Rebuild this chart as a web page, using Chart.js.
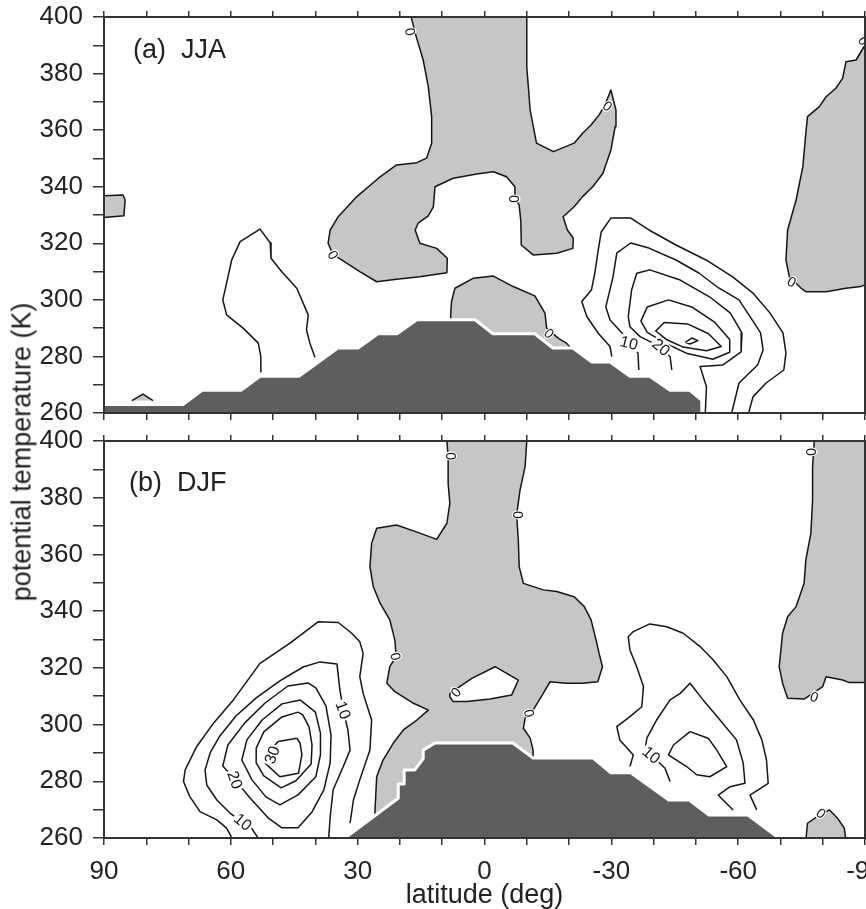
<!DOCTYPE html>
<html>
<head>
<meta charset="utf-8">
<script src="https://cdn.jsdelivr.net/npm/chart.js@4.4.1/dist/chart.umd.min.js"></script>
<style>
  html, body { margin: 0; padding: 0; background: #fff; }
  #wrap { position: relative; width: 866px; height: 909px; overflow: hidden;
          font-family: "Liberation Sans", Arial, Helvetica, sans-serif; }
  .panel { position: absolute; left: 0; width: 866px; }
  #boxA { top: 0; height: 427px; }
  #boxB { top: 427px; height: 482px; }
  #ytitle { position: absolute; left: 22px; top: 452px; line-height: 1;
            transform: translate(-50%, -50%) rotate(-90deg);
            white-space: nowrap; font-size: 27px; color: #222; }
</style>
</head>
<body>
<div id="wrap">
  <div class="panel" id="boxA"><canvas id="chartA" width="866" height="427"></canvas></div>
  <div class="panel" id="boxB"><canvas id="chartB" width="866" height="482"></canvas></div>
  <div id="ytitle">potential temperature (K)</div>
</div>
<script>
// axis setup
const latRange = [-90, 90];
const thetaRange = [260, 400];
const latLabels = [90, 60, 30, 0, -30, -60, -90];
const thetaLabels = [260, 280, 300, 320, 340, 360, 380, 400];

// ---- (a) JJA : [latitude, theta] pairs ----
const jjaTopo = [[92,258],[92,263],[71.3,263],[66.8,268],[57.6,268],[53.1,273],[43.9,273],[34.7,283],[29.9,283],[25.2,288],[20.7,288],[16.0,293],[2.3,293],[-2.0,288],[-11.9,288],[-16.2,283],[-20.9,283],[-25.4,278],[-29.7,278],[-34.4,273],[-39.1,273],[-43.9,268],[-48.6,268],[-51.4,264.5],[-51.4,258],[92,258]];
const jjaNegEdge = [[91,336.7],[85.5,337.1],[85.0,335.3],[85.3,329.7],[91,329.0]];
const jjaNegBump = [[83.4,264.4],[80.8,266.7],[78.4,264.4]];
const jjaNegCentral = [[17.5,401],[16.4,394.3],[14.5,384.8],[13.3,375.4],[12.5,364.8],[12.5,355.4],[13.7,350.1],[16.0,348.5],[20.8,347.7],[25.1,343],[30.2,336.5],[34.6,329.4],[36.5,324.7],[37.0,320],[35.8,315.9],[33.8,314.1],[29.5,310],[25.5,306.4],[20.8,307.3],[15.3,308.2],[8.9,309.6],[8.8,314.7],[11.3,318.2],[15.3,320],[16.4,324.7],[15.7,327.1],[13.3,329.7],[12.1,332.9],[11.7,340],[7.4,343],[1.85,344.5],[-2.1,345.3],[-5.2,343.5],[-7.2,340],[-7.2,335.9],[-8.2,333.5],[-8.6,327.6],[-8.7,319.4],[-11.5,315.9],[-17.1,316.5],[-20.9,318.2],[-21.0,321.8],[-19.6,324.7],[-18.6,329.4],[-21.2,332.9],[-23.2,336.5],[-25.6,340],[-28.0,344.7],[-29.9,353],[-30.9,361.2],[-31.1,367.1],[-29.9,374.2],[-28.3,368.3],[-27.1,365.4],[-25.2,361.8],[-23.2,358.9],[-21.2,355.4],[-16.3,352.4],[-12.3,355.4],[-10.8,367.1],[-10,382.4],[-10,401],[17.5,401]];
const jjaNegBlob = [[8.0,281],[8.0,294.7],[7.8,299.4],[7.0,304.1],[2.7,307.6],[-2.1,308.4],[-6.8,304.7],[-11.9,301.4],[-14.3,295.3],[-14.7,290],[-17.5,286.4],[-19.4,284.7],[-21.5,281]];
const jjaNegPolar = [[-91,390.1],[-90,390.1],[-87.9,384.8],[-85.5,384.2],[-84.7,378.3],[-83.1,374.8],[-80.8,371.8],[-79.2,368.3],[-76.4,364.8],[-76.0,358.9],[-75.3,347.1],[-73.7,335.3],[-71.7,324.7],[-71.3,314.1],[-72.1,308.2],[-74.9,304.1],[-76.0,302.9],[-80.8,302.9],[-85.5,304.1],[-89,304.7],[-91,306]];
const jjaPosNH = [[53.1,274.6],[52.9,279.9],[53.5,284.7],[57.1,290],[61.0,294.7],[61.9,300],[61.0,305.9],[59.8,314.1],[57.8,320.6],[53.1,325],[50.7,320.2],[50.5,314.7],[48.0,310],[44.4,304.1],[41.7,294.7],[42.1,289.4],[41.3,284.7],[40.1,279.7]];
const jjaPosOuter = [[-30.1,279.9],[-29.7,283.5],[-26.9,288.2],[-24.2,294.1],[-23.0,299.4],[-25.3,303.5],[-26.1,309.5],[-26.8,316.6],[-27.6,324.0],[-29.9,328.9],[-34.6,328.9],[-38.9,324.7],[-45.3,319.4],[-52.4,314.1],[-58.7,308.1],[-63.5,302.4],[-67.5,295.4],[-70.6,288.3],[-71.3,281.2],[-70.8,275.2],[-66.6,270.6],[-63.5,265.7],[-62.3,259]];
const jjaPos10 = [[-36.5,275.2],[-36.3,281.2],[-34.2,284.8],[-32.5,288.3],[-29.7,292.9],[-28.7,297.5],[-30.4,308.1],[-31.3,316.6],[-34.6,320.1],[-38.9,318.3],[-45.3,314.1],[-50.7,309.5],[-55.4,304.2],[-60.2,300],[-63.0,293.6],[-65.3,288.3],[-65.9,282.3],[-64.6,277.0],[-60.2,270.6],[-58.3,259]];
const jjaPos20 = [[-44.3,275.2],[-43.9,279.9],[-41.8,283.3],[-36.8,287.0],[-34.4,290.5],[-34.0,294.1],[-34.8,303.5],[-36.0,309.4],[-39.1,310.6],[-46.3,307.0],[-53.3,301.0],[-58.1,295.4],[-60.9,288.3],[-60.7,281.6],[-56.4,277.0],[-51.0,276.4],[-52.5,269.3],[-52.2,259]];
const jjaPosIn1 = [[-43.5,300],[-38.5,297.5],[-37,292.5],[-38.5,288.5],[-43,284.5],[-48,281],[-54,279],[-58,281.5],[-58,286],[-54.5,292],[-49,297.5],[-43.5,300]];
const jjaPosIn2 = [[-42.5,292],[-40.5,289],[-43,286],[-47,283.3],[-52.5,282],[-56,283.5],[-53,288],[-48,291.5],[-42.5,292]];
const jjaPosCore = [[-47.5,285],[-49,286.5],[-50.5,285.6],[-48.6,284.4],[-47.5,285]];
const jjaZeroLabels = [[17.6,394.8,80],[35.8,315.9,60],[-7.0,335.7,90],[-15.3,288.2,45],[-29.1,368.5,40],[-72.7,306.4,30],[-89.7,391.6,60]];
const jjaNumLabels = [[-34.2,284.8,'10',15],[-41.8,283.3,'20',40]];

// ---- (b) DJF ----
const djfTopo = [[34.8,258],[33.0,260],[20.4,274],[20.4,279],[19.0,279],[19.0,284],[16.5,284],[14.5,288],[14.5,291],[11.7,293.5],[-6.7,293.5],[-11.5,288.2],[-25.7,288.2],[-29.9,283],[-34.6,283],[-43.6,273.4],[-48.4,273.4],[-53.1,268.1],[-62.3,268.1],[-69.6,260],[-71.4,258],[34.8,258]];
const djfNegCentral = [[8.9,401],[8.9,400],[8.6,394.5],[8.6,385.1],[8.2,378.0],[8.9,371.0],[11.3,365.3],[15.3,367.5],[20.8,370.4],[25.5,369.2],[26.7,363.9],[27.1,355.7],[26.3,348.6],[24.7,342.8],[22.4,336.9],[21.2,329.8],[20.9,324.0],[22.4,320.4],[23.1,314.6],[21.2,311.6],[16.8,307.5],[13.3,305.1],[16.0,301.6],[19.2,298.1],[21.6,293.4],[24.0,287.5],[25.5,281.6],[25.9,269.8],[25.9,265],[8.0,280],[-11.5,280],[-11.5,291],[-10.8,295.2],[-9.2,298.7],[-9.6,302.2],[-11.5,305.1],[-13.9,311.0],[-15.5,315.1],[-19.3,314.6],[-23.2,314.6],[-26.8,315.1],[-27.9,320.4],[-27.1,325.1],[-26.4,329.8],[-25.2,336.9],[-23.6,341.6],[-21.2,345.1],[-17.1,346.9],[-13.9,347.5],[-9.2,349.8],[-8.2,355.7],[-8.0,365.1],[-7.6,373.9],[-8.4,382.7],[-9.6,390.9],[-10.0,400],[-10.0,401],[8.9,401]];
const djfHole = [[8.2,311.0],[3.0,316.3],[-2.5,320.4],[-8.0,315.7],[-6.4,310.4],[-1.3,309.0],[4.2,308.1],[7.4,308.1],[8.2,309.8],[8.2,311.0]];
const djfNegPolar = [[-78.0,401],[-78.0,400],[-77.6,390.9],[-77.6,379.2],[-77.2,367.5],[-76.0,358.0],[-75.6,349.8],[-73.7,341.6],[-71.7,338.0],[-70.5,332.2],[-69.7,320.4],[-70.5,314.6],[-71.7,309.3],[-75.6,309.0],[-80.0,313.4],[-80.8,316.9],[-84.7,315.7],[-86.3,314.8],[-91,314.8],[-91,401]];
const djfNegBump = [[-76.0,259],[-76.4,265.2],[-79.2,268.1],[-81.6,269.9],[-83.5,267.0],[-85.1,263.5],[-85.5,259]];
const djfPosOuter = [[59.4,259],[61.0,263.5],[63.3,266.4],[67.3,269.3],[69.7,274.6],[71.2,279.9],[70.8,284.0],[68.1,292.2],[64.1,300.5],[59.4,308.7],[53.1,321.6],[46.0,328.7],[39.3,336.3],[34.6,336.0],[31.4,332.2],[29.5,329.2],[28.7,325.1],[29.5,316.9],[28.7,311.0],[26.7,301.6],[27.1,291.0],[29.5,280.5],[31.0,273.4],[31.8,265.2]];
const djfPos10 = [[53.1,259],[55.1,263.5],[57.4,265.8],[60.2,268.8],[63.3,273.4],[65.7,278.7],[66.1,284.0],[64.9,290.0],[62.6,296.0],[58.8,303.0],[54.0,309.4],[48.4,315.4],[42.9,320.3],[38.9,322.1],[34.9,321.4],[34.2,312.2],[33.4,305.1],[32.3,298.1],[31.8,291.0],[33.4,285.2],[35.8,277.0],[36.5,267.5],[36.9,259]];
const djfPos20 = [[41.7,314.7],[46.5,313.6],[51.9,307.6],[56.7,300.6],[60.7,292.8],[61.9,285.4],[59.0,280.5],[55.5,274.2],[51.2,267.1],[47.9,263.6],[44.1,263.6],[40.8,269.2],[38.0,277.0],[36.5,286.5],[36.3,296.3],[37.5,306.6],[39.9,312.9],[41.7,314.7]];
const djfPosIn1 = [[43.6,308.7],[47.9,307.3],[52.6,301.6],[56.2,294.6],[57.4,287.5],[55.0,280.5],[51.7,274.5],[48.4,271.7],[44.1,275.2],[39.9,281.6],[38.8,289.3],[38.8,297.0],[40.0,304.4],[43.6,308.7]];
const djfPosIn2 = [[44.1,304.4],[47.9,302.7],[52.2,297.4],[54.0,291.7],[54.0,286.5],[52.2,281.9],[48.1,277.7],[44.6,280.2],[41.0,286.1],[40.8,292.8],[41.5,299.2],[43.0,303.4],[44.1,304.4]];
const djfPos30 = [[44.4,295.2],[48.8,294.0],[51.1,290.4],[51.9,286.4],[48.4,281.6],[44.0,282.8],[43.2,289.3],[43.6,293.4],[44.4,295.2]];
const djfPosSHOuter = [[-34.4,285.2],[-35.2,289.3],[-32.0,294.6],[-31.3,299.3],[-34.4,302.8],[-37.2,306.3],[-37.6,313.4],[-36.0,320.4],[-34.4,326.3],[-34.0,331.0],[-35.2,332.8],[-39.1,335.5],[-43.1,334.5],[-47.0,332.2],[-51.0,327.5],[-54.1,322.8],[-57.3,316.9],[-60.4,308.7],[-63.6,301.6],[-65.6,294.6],[-66.7,287.5],[-67.1,279.3],[-62.8,275.1],[-64.4,269.9]];
const djfPosSH10 = [[-43.9,279.9],[-42.7,284.6],[-39.5,289.3],[-38.0,291.1],[-38.4,295.2],[-40.7,301.6],[-43.9,308.7],[-46.3,311.0],[-48.6,314.6],[-51.7,308.7],[-55.7,301.6],[-59.6,294.6],[-61.2,286.4],[-61.6,279.3],[-58.1,278.1],[-55.3,275.1],[-58.8,269.9]];
const djfPosSHCore = [[-48.6,297.5],[-52.9,295.2],[-54.9,291.1],[-57.3,285.2],[-53.3,281.6],[-50.2,282.3],[-47.8,285.2],[-43.5,289.3],[-44.7,292.8],[-48.6,297.5]];
const djfZeroLabels = [[8.0,394.7,90],[-8.0,373.9,90],[21.0,324.0,80],[6.8,311.4,-50],[-10.6,304.0,80],[-77.2,396.2,90],[-78.0,309.8,20],[-79.6,268.7,40]];
const djfNumLabels = [[57.1,265.7,'10',40],[59.0,280.5,'20',70],[50.3,289.3,'30',-70],[33.4,305.1,'10',70],[-39.5,289.3,'10',40]];

const FONT = '"Liberation Sans", Arial, Helvetica, sans-serif';
Chart.defaults.font.family = FONT;
Chart.defaults.color = '#222';

const LINE = '#151515';
const LIGHT = '#c6c6c6';
const DARK = '#5e5e5e';

function xy(arr) {
    return arr.map(p => ({ x: p[0], y: p[1] }));
}

// gray (negative) region outlined by the zero contour
function region(arr, color, order) {
    return { data: xy(arr), fill: 'shape', backgroundColor: color, borderColor: LINE, borderWidth: 1.5, order: order };
}

function contour(arr) {
    return { data: xy(arr), fill: false, borderColor: LINE, borderWidth: 1.5, order: 1 };
}

function topography(arr) {
    return { data: xy(arr), fill: 'shape', backgroundColor: DARK, borderColor: '#fff', borderWidth: 3, order: 0 };
}

const deco = {
    id: 'deco',
    afterDatasetsDraw(chart, args, opts) {
        const { ctx, chartArea: a } = chart;
        const x = chart.scales.x, y = chart.scales.y;
        ctx.save();
        ctx.beginPath();
        ctx.rect(a.left, a.top, a.right - a.left, a.bottom - a.top);
        ctx.clip();
        ctx.textAlign = 'center';
        ctx.textBaseline = 'middle';

        ctx.font = '14px ' + FONT;
        opts.zeros.forEach(([lat, th, rot]) => {
            ctx.save();
            ctx.translate(x.getPixelForValue(lat), y.getPixelForValue(th));
            ctx.rotate(rot * Math.PI / 180);
            ctx.fillStyle = '#fff';
            ctx.beginPath();
            ctx.ellipse(0, 0, 4.5, 6.5, 0, 0, Math.PI * 2);
            ctx.fill();
            ctx.fillStyle = LINE;
            ctx.fillText('0', 0, 1);
            ctx.restore();
        });

        ctx.font = '16px ' + FONT;
        opts.nums.forEach(([lat, th, text, rot]) => {
            ctx.save();
            ctx.translate(x.getPixelForValue(lat), y.getPixelForValue(th));
            ctx.rotate(rot * Math.PI / 180);
            const w = ctx.measureText(text).width + 3;
            ctx.fillStyle = '#fff';
            ctx.fillRect(-w / 2, -7, w, 14);
            ctx.fillStyle = LINE;
            ctx.fillText(text, 0, 1);
            ctx.restore();
        });
        ctx.restore();
    },
    afterDraw(chart, args, opts) {
        const { ctx, chartArea: a } = chart;
        ctx.save();
        ctx.strokeStyle = '#333';
        ctx.lineWidth = 2;
        ctx.strokeRect(a.left, a.top, a.right - a.left, a.bottom - a.top);
        ctx.fillStyle = '#222';
        ctx.font = '27px ' + FONT;
        ctx.textAlign = 'left';
        ctx.textBaseline = 'middle';
        ctx.fillText(opts.title, a.left + opts.titleDx, a.top + opts.titleDy);
        ctx.restore();
    }
};

function tickGrid(len) {
    return { drawOnChartArea: false, drawTicks: true, tickLength: len, color: '#333', lineWidth: 1.5 };
}

function buildScales(withLabels, bottomHeight) {
    return {
        x: {
            type: 'linear', position: 'bottom', reverse: true,
            min: latRange[0], max: latRange[1],
            ticks: {
                display: withLabels, stepSize: 10, autoSkip: false, maxRotation: 0, padding: 11,
                font: { size: 26 }, color: '#222',
                callback: v => latLabels.includes(v) ? String(v) : ''
            },
            grid: tickGrid(7),
            border: { display: false },
            title: {
                display: withLabels, text: 'latitude (deg)', color: '#222',
                font: { size: 27, lineHeight: 1 }, padding: 0
            },
            afterFit: s => { s.height = bottomHeight; s.paddingLeft = 0; s.paddingRight = 0; }
        },
        xTop: {
            type: 'linear', position: 'top', reverse: true,
            min: latRange[0], max: latRange[1],
            ticks: { display: false, stepSize: 10, autoSkip: false },
            grid: tickGrid(6),
            border: { display: false },
            afterFit: s => { s.height = 0; s.paddingLeft = 0; s.paddingRight = 0; }
        },
        y: {
            type: 'linear', position: 'left',
            min: thetaRange[0], max: thetaRange[1],
            ticks: {
                stepSize: 10, autoSkip: false, padding: 10,
                font: { size: 26 }, color: '#222',
                callback: v => thetaLabels.includes(v) ? String(v) : ''
            },
            grid: tickGrid(11),
            border: { display: false },
            afterFit: s => { s.width = 104; s.paddingTop = 0; s.paddingBottom = 0; }
        }
    };
}

function makeChart(id, datasets, cfg) {
    datasets.forEach(d => {
        d.xAxisID = 'x';
        d.yAxisID = 'y';
        d.pointRadius = 0;
        d.tension = 0;
        d.clip = 0;
    });
    return new Chart(document.getElementById(id), {
        type: 'line',
        data: { datasets: datasets },
        options: {
            responsive: false,
            animation: false,
            events: [],
            layout: { padding: { top: cfg.padTop, right: 1, bottom: 0, left: 0 } },
            elements: { line: { borderJoinStyle: 'round' } },
            plugins: {
                legend: { display: false },
                tooltip: { enabled: false },
                deco: { title: cfg.title, titleDx: cfg.titleDx, titleDy: cfg.titleDy, zeros: cfg.zeros, nums: cfg.nums }
            },
            scales: buildScales(cfg.withLabels, cfg.bottomHeight)
        },
        plugins: [deco]
    });
}

makeChart('chartA', [
    topography(jjaTopo),
    contour(jjaPosNH), contour(jjaPosOuter), contour(jjaPos10), contour(jjaPos20),
    contour(jjaPosIn1), contour(jjaPosIn2), contour(jjaPosCore),
    region(jjaNegEdge, LIGHT, 3), region(jjaNegBump, LIGHT, 3), region(jjaNegCentral, LIGHT, 3),
    region(jjaNegBlob, LIGHT, 3), region(jjaNegPolar, LIGHT, 3)
], {
    padTop: 17, bottomHeight: 14, withLabels: false,
    title: '(a)  JJA', titleDx: 29, titleDy: 34,
    zeros: jjaZeroLabels, nums: jjaNumLabels
});

makeChart('chartB', [
    topography(djfTopo),
    contour(djfPosOuter), contour(djfPos10), contour(djfPos20), contour(djfPosIn1),
    contour(djfPosIn2), contour(djfPos30),
    contour(djfPosSHOuter), contour(djfPosSH10), contour(djfPosSHCore),
    region(djfHole, '#fff', 2),
    region(djfNegCentral, LIGHT, 3), region(djfNegPolar, LIGHT, 3), region(djfNegBump, LIGHT, 3)
], {
    padTop: 14, bottomHeight: 71, withLabels: true,
    title: '(b)  DJF', titleDx: 25, titleDy: 43,
    zeros: djfZeroLabels, nums: djfNumLabels
});
</script>
</body>
</html>
